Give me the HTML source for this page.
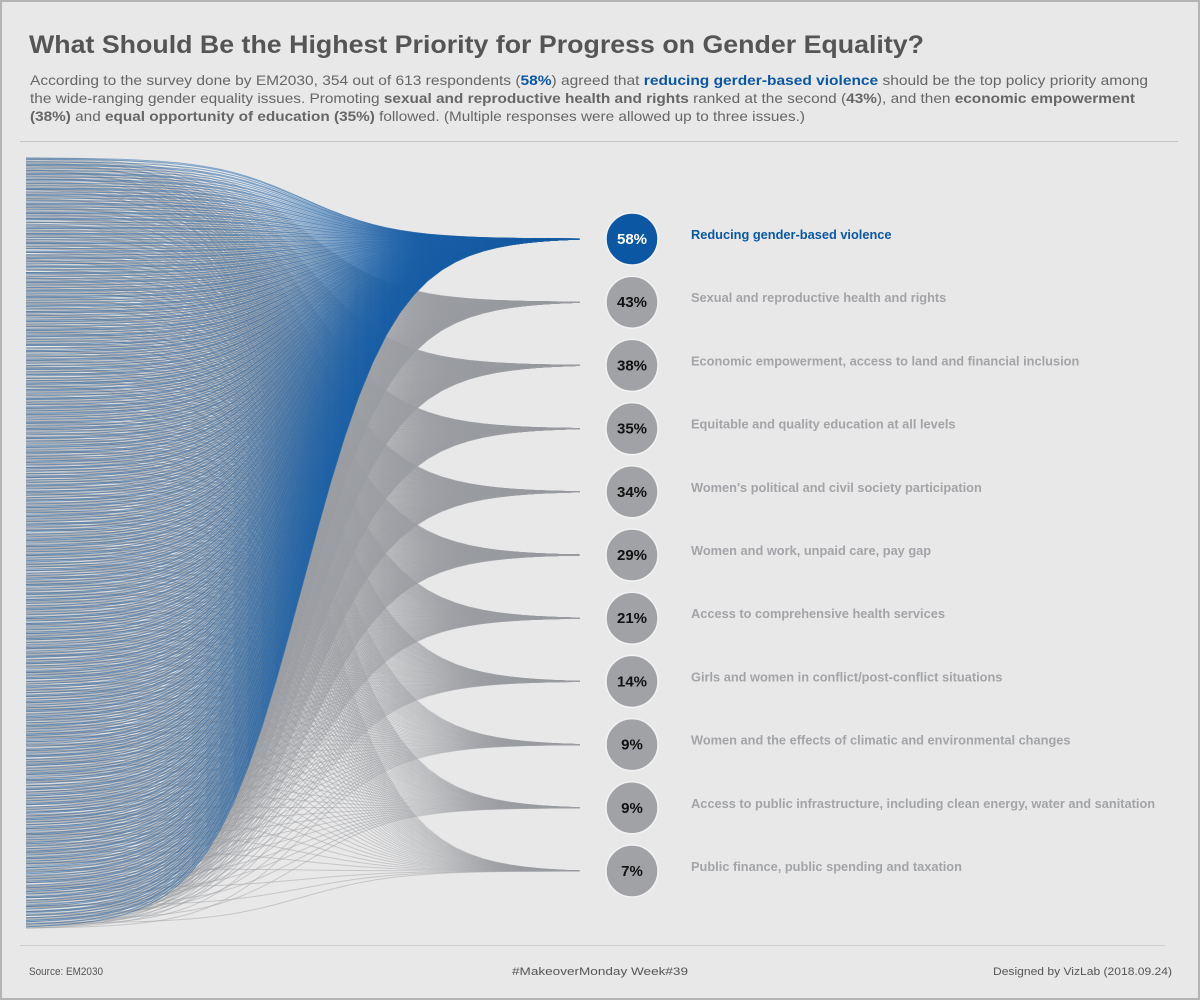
<!DOCTYPE html>
<html><head><meta charset="utf-8"><style>
html,body{margin:0;padding:0;background:#e8e8e8;}
svg{display:block;font-family:"Liberation Sans",sans-serif;}
</style></head><body>
<svg id="chart" width="1200" height="1000" viewBox="0 0 1200 1000">
<rect x="1" y="1" width="1198" height="998" fill="#e8e8e8" stroke="#b4b4b4" stroke-width="2"/>
<text x="29" y="53" font-size="25" font-weight="bold" fill="#555" textLength="895" lengthAdjust="spacingAndGlyphs">What Should Be the Highest Priority for Progress on Gender Equality?</text>
<g font-size="14" fill="#666">
<text x="30" y="85" textLength="1118" lengthAdjust="spacingAndGlyphs">According to the survey done by EM2030, 354 out of 613 respondents (<tspan font-weight="bold" fill="#0b57a4">58%</tspan>) agreed that <tspan font-weight="bold" fill="#0b57a4">reducing gerder-based violence</tspan> should be the top policy priority among</text>
<text x="30" y="103" textLength="1105" lengthAdjust="spacingAndGlyphs">the wide-ranging gender equality issues. Promoting <tspan font-weight="bold">sexual and reproductive health and rights</tspan> ranked at the second (<tspan font-weight="bold">43%</tspan>), and then <tspan font-weight="bold">economic empowerment</tspan></text>
<text x="30" y="121" textLength="775" lengthAdjust="spacingAndGlyphs"><tspan font-weight="bold">(38%)</tspan> and <tspan font-weight="bold">equal opportunity of education (35%)</tspan> followed. (Multiple responses were allowed up to three issues.)</text>
</g>
<line x1="20" y1="141.5" x2="1178" y2="141.5" stroke="#c4c4c4" stroke-width="1"/>
<g id="flows"></g>
<g id="nodes"></g>
<line x1="20" y1="945.5" x2="1165" y2="945.5" stroke="#cfcfcf" stroke-width="1"/>
<text x="29" y="975" font-size="11" fill="#555" textLength="74" lengthAdjust="spacingAndGlyphs">Source: EM2030</text>
<text x="512" y="975" font-size="11" fill="#555" textLength="176" lengthAdjust="spacingAndGlyphs">#MakeoverMonday Week#39</text>
<text x="993" y="975" font-size="11" fill="#555" textLength="179" lengthAdjust="spacingAndGlyphs">Designed by VizLab (2018.09.24)</text>
</svg>
<script>
const categories = ["Reducing gender-based violence","Sexual and reproductive health and rights","Economic empowerment, access to land and financial inclusion","Equitable and quality education at all levels","Women's political and civil society participation","Women and work, unpaid care, pay gap","Access to comprehensive health services","Girls and women in conflict/post-conflict situations","Women and the effects of climatic and environmental changes","Access to public infrastructure, including clean energy, water and sanitation","Public finance, public spending and taxation"];
const percents = [58,43,38,35,34,29,21,14,9,9,7];
const respondents = 613;

const NS = "http://www.w3.org/2000/svg";
const leftX = 26, targetX = 580, topY = 158, botY = 928;
const firstNodeY = 239, nodeStep = 63.2;
function yLeft(i){ return topY + (botY - topY) * i / (respondents - 1); }
function yNode(k){ return firstNodeY + nodeStep * k; }
function sig(t){ return 1 / (1 + Math.exp(-t)); }
const S0 = sig(-6), S1 = sig(6);
function curve(y0, yt){
  let d = "";
  const N = 40;
  for (let i = 0; i <= N; i++) {
    const t = -6 + 12 * i / N;
    const x = leftX + (targetX - leftX) * i / N;
    const y = y0 + (yt - y0) * (sig(t) - S0) / (S1 - S0);
    d += (i ? "L" : "M") + x.toFixed(1) + "," + y.toFixed(1);
  }
  return d;
}

const flows = document.getElementById('flows');
const greyG = document.createElementNS(NS,'g');


const blueG = document.createElementNS(NS,'g');


flows.appendChild(greyG); flows.appendChild(blueG);
percents.forEach((p, k) => {
  const n = Math.round(p / 100 * respondents);
  const off = (k * 0.37) % 1;
  const yt = yNode(k);
  for (let j = 0; j < n; j++) {
    const idx = Math.floor((j + off) * respondents / n) % respondents;
    const y0 = yLeft(idx);
    const path = document.createElementNS(NS,'path');
    
    
    path.setAttribute('d', curve(y0, yt));
    path.setAttribute('fill','none');
    path.setAttribute('stroke-width','1');
    if (k === 0) { path.setAttribute('stroke','#1a5fa8'); path.setAttribute('stroke-opacity','0.5'); blueG.appendChild(path); }
    else { path.setAttribute('stroke','#9c9da1'); path.setAttribute('stroke-opacity','0.45'); greyG.appendChild(path); }
  }
});

const nodes = document.getElementById('nodes');
categories.forEach((c, k) => {
  const y = yNode(k);
  const blue = k === 0;
  const circ = document.createElementNS(NS,'circle');
  
  
  circ.setAttribute('cx', 632); circ.setAttribute('cy', y); circ.setAttribute('r', 26);
  circ.setAttribute('fill', blue ? '#0b57a4' : '#a0a2a6');
  circ.setAttribute('stroke', '#f2f2f2'); circ.setAttribute('stroke-width', '1.5');
  nodes.appendChild(circ);
  const t = document.createElementNS(NS,'text');
  
  
  t.setAttribute('x', 632); t.setAttribute('y', y + 5);
  t.setAttribute('text-anchor','middle'); t.setAttribute('font-size','15'); t.setAttribute('font-weight','bold');
  t.setAttribute('fill', blue ? '#fff' : '#111');
  t.textContent = percents[k] + '%';
  nodes.appendChild(t);
  const l = document.createElementNS(NS,'text');
  
  
  l.setAttribute('x', 691); l.setAttribute('y', y);
  l.setAttribute('font-size','12.8'); l.setAttribute('font-weight','bold');
  l.setAttribute('fill', blue ? '#0b57a4' : '#a3a4a8');
  l.textContent = c;
  nodes.appendChild(l);
});
</script>
</body></html>
